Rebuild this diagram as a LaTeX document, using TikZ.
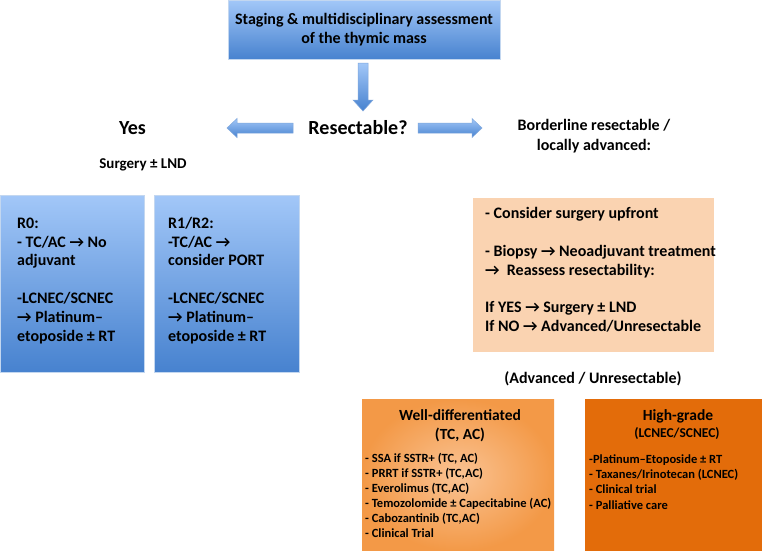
\documentclass[tikz,border=0pt]{standalone}
\usepackage{fontspec}
\setmainfont{Carlito}
\definecolor{bluetop}{HTML}{A2C7F8}
\definecolor{bluebot}{HTML}{4782CF}
\definecolor{blueedge}{HTML}{C3D7F0}
\definecolor{arrowedge}{HTML}{7FA7DC}
\definecolor{peach}{HTML}{FAD3B1}
\definecolor{orangein}{HTML}{FAC393}
\definecolor{orangeout}{HTML}{F39947}
\definecolor{darkorange}{HTML}{E36C0A}
\tikzset{
  bluebox/.style={rectangle, top color=bluetop, bottom color=bluebot, draw=blueedge, line width=0.6pt, inner sep=0pt, anchor=north west},
  peachbox/.style={rectangle, fill=peach, draw=none, inner sep=0pt, anchor=north west},
  wdbox/.style={rectangle, inner color=orangein, outer color=orangeout, draw=none, inner sep=0pt, anchor=north west},
  hgbox/.style={rectangle, fill=darkorange, draw=none, inner sep=0pt, anchor=north west},
  blockarrow/.style={top color=bluetop, bottom color=bluebot, draw=arrowedge, line width=0.5pt},
  txt/.style={inner sep=0pt, text=black, font=\bfseries\fontsize{16}{18.8}\selectfont},
  bigtxt/.style={inner sep=0pt, text=black, font=\bfseries\fontsize{20}{22}\selectfont},
  titletxt/.style={inner sep=0pt, text=black, font=\bfseries\fontsize{15.5}{19}\selectfont},
  smalltxt/.style={inner sep=0pt, text=black, font=\bfseries\fontsize{12.5}{15}\selectfont},
}
\begin{document}
\begin{tikzpicture}[x=1pt,y=-1pt]
\useasboundingbox (0,0) rectangle (762,550);
\fill[white] (0,0) rectangle (762,550);
% top box
\node[bluebox, minimum width=272pt, minimum height=59pt] (top) at (228,0) {};
\node[txt, anchor=base, align=center, font=\bfseries\fontsize{16}{18.5}\selectfont] (toptxt) at (364,43) {Staging \& multidisciplinary assessment\\of the thymic mass};
% question
\node[bigtxt, anchor=base] (resect) at (358,134) {Resectable?};
\node[bigtxt, anchor=base] (yes) at (132.5,134) {Yes};
\node[txt, anchor=base, font=\bfseries\fontsize{15}{18}\selectfont] (surg) at (143,168) {Surgery ± LND};
\node[txt, anchor=base, align=center, font=\bfseries\fontsize{16}{20}\selectfont] (border) at (594,150) {Borderline resectable /\\locally advanced:};
% block arrows
\shadedraw[blockarrow] (358,63) -- (368,63) -- (368,100) -- (373,100) -- (363,111) -- (353,100) -- (358,100) -- cycle;
\shadedraw[blockarrow] (293,123) -- (237,123) -- (237,118.5) -- (227,128) -- (237,137.5) -- (237,133) -- (293,133) -- cycle;
\shadedraw[blockarrow] (418,123) -- (472,123) -- (472,118.5) -- (482,128) -- (472,137.5) -- (472,133) -- (418,133) -- cycle;
% R0 / R1R2 boxes
\node[bluebox, minimum width=144pt, minimum height=177pt] (r0) at (0,195) {};
\node[bluebox, minimum width=145pt, minimum height=177pt] (r1) at (154,195) {};
\node[txt, anchor=base west, align=left] (r0t) at (17,341) {R0:\\- TC/AC → No\\adjuvant\\[18.8pt]-LCNEC/SCNEC\\→ Platinum–\\etoposide ± RT};
\node[txt, anchor=base west, align=left] (r1t) at (168,341) {R1/R2:\\-TC/AC →\\consider PORT\\[18.8pt]-LCNEC/SCNEC\\→ Platinum–\\etoposide ± RT};
% peach box
\node[peachbox, minimum width=241pt, minimum height=154pt] (peach) at (473,198) {};
\node[txt, anchor=base west, align=left, font=\bfseries\fontsize{16}{19}\selectfont] (peacht) at (485,331) {- Consider surgery upfront\\[19pt]- Biopsy → Neoadjuvant treatment\\→ \ Reassess resectability:\\[18pt]If YES → Surgery ± LND\\If NO → Advanced/Unresectable};
% advanced label
\node[txt, anchor=base] (adv) at (593,383) {(Advanced / Unresectable)};
% well-differentiated
\node[wdbox, minimum width=192pt, minimum height=152pt] (wd) at (362,399) {};
\node[titletxt, anchor=base, align=center] (wdt) at (460,439) {Well-differentiated\\(TC, AC)};
\node[smalltxt, anchor=base west, align=left] (wdl) at (365,537) {- SSA if SSTR+ (TC, AC)\\- PRRT if SSTR+ (TC,AC)\\- Everolimus (TC,AC)\\- Temozolomide ± Capecitabine (AC)\\- Cabozantinib (TC,AC)\\- Clinical Trial};
% high-grade
\node[hgbox, minimum width=177pt, minimum height=152pt] (hg) at (585,399) {};
\node[titletxt, anchor=base] (hgt) at (678,420) {High-grade};
\node[txt, anchor=base, font=\bfseries\fontsize{13.5}{16}\selectfont] (hgs) at (677,437) {(LCNEC/SCNEC)};
\node[smalltxt, anchor=base west, align=left, font=\bfseries\fontsize{12.5}{15.3}\selectfont] (hgl) at (589,509) {-Platinum–Etoposide ± RT\\- Taxanes/Irinotecan (LCNEC)\\- Clinical trial\\- Palliative care};
\end{tikzpicture}
\end{document}
